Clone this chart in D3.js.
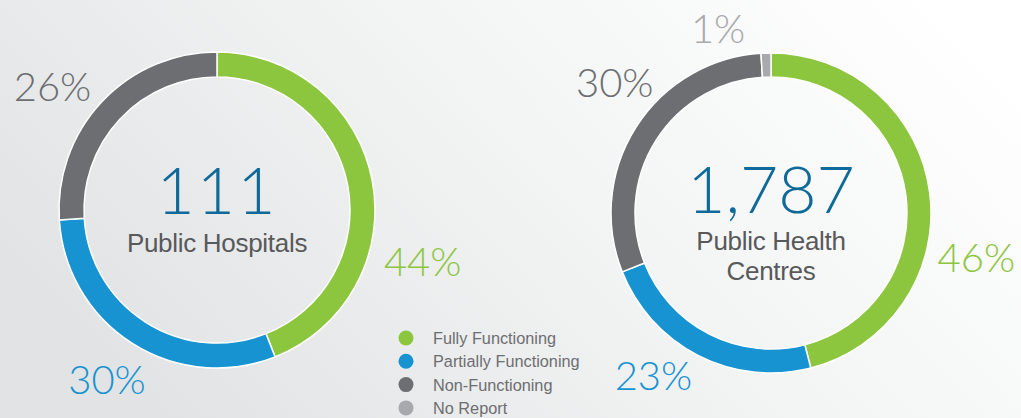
<!DOCTYPE html>
<html>
<head>
<meta charset="utf-8">
<script src="https://cdn.jsdelivr.net/npm/d3@7"></script>
<style>
  html, body { margin: 0; padding: 0; background: #fff; }
  svg { display: block; font-family: "Lato", "Open Sans", sans-serif; }
</style>
</head>
<body>
<div id="chart"></div>
<script>
// data
const categories = ["Fully Functioning", "Partially Functioning", "Non-Functioning", "No Report"];
const hospitalValues = [44, 30, 26, 0];
const centreValues = [46, 23, 30, 1];
const totals = [111, 1787];
const titles = [["Public Hospitals"], ["Public Health", "Centres"]];

const colors = {
    green: "#8cc63f",
    blue: "#1793d1",
    dark: "#6d6e71",
    light: "#a7a9ac",
    number: "#0f6a99",
    text: "#58595b"
};
const catColor = d3.scaleOrdinal().domain(categories)
    .range([colors.green, colors.blue, colors.dark, colors.light]);

const width = 1021, height = 418;

const svg = d3.select("#chart").append("svg")
    .attr("width", width)
    .attr("height", height);

// soft grey-to-white background
const grad = svg.append("defs").append("linearGradient")
    .attr("id", "bg")
    .attr("x1", "0%").attr("y1", "60%")
    .attr("x2", "100%").attr("y2", "20%");
grad.append("stop").attr("offset", "0%").attr("stop-color", "#e2e3e4");
grad.append("stop").attr("offset", "55%").attr("stop-color", "#f3f4f4");
grad.append("stop").attr("offset", "100%").attr("stop-color", "#ffffff");
svg.append("rect").attr("width", width).attr("height", height).attr("fill", "url(#bg)");

// layout per donut: centre, radii, label angles (degrees, clockwise from top)
const donuts = [
    {values: hospitalValues, total: totals[0], title: titles[0], cx: 217, cy: 210, r: 158, inner: 133,
        numY: 4, titleY: 42, labelAngles: [104, 213, 307, null], labelR: [212, 202, 206, 0]},
    {values: centreValues, total: totals[1], title: titles[1], cx: 771, cy: 213, r: 160, inner: 136,
        numY: 0, titleY: 37, labelAngles: [102, 216, 310, 344], labelR: [210, 200, 204, 192]}
];

const pie = d3.pie().sort(null).value(d => d.value);
const fmt = d3.format(",");

donuts.forEach(cfg => {
    const g = svg.append("g")
        .attr("transform", "translate(" + cfg.cx + "," + cfg.cy + ")");

    const arc = d3.arc().innerRadius(cfg.inner).outerRadius(cfg.r);
    const rows = categories.map((c, i) => ({cat: c, value: cfg.values[i]}));
    const arcs = pie(rows);

    g.selectAll("path")
        .data(arcs.filter(d => d.data.value > 0))
        .enter()
        .append("path")
        .attr("d", arc)
        .attr("fill", d => catColor(d.data.cat))
        .attr("stroke", "#fff")
        .attr("stroke-width", 1.5);

    // percentage labels
    arcs.forEach((d, i) => {
        if (!d.data.value || cfg.labelAngles[i] == null) return;
        const a = cfg.labelAngles[i] * Math.PI / 180;
        const rr = cfg.labelR[i];
        g.append("text")
            .attr("x", Math.sin(a) * rr)
            .attr("y", -Math.cos(a) * rr)
            .attr("text-anchor", "middle")
            .attr("dominant-baseline", "central")
            .attr("font-size", 40)
            .attr("font-weight", 300)
            .attr("fill", catColor(d.data.cat))
            .text(d.data.value + "%");
    });

    // centre number and title
    g.append("text")
        .attr("x", 0)
        .attr("y", cfg.numY)
        .attr("text-anchor", "middle")
        .attr("font-size", 66)
        .attr("font-weight", 300)
        .attr("letter-spacing", cfg.total < 1000 ? 2 : 0)
        .attr("fill", colors.number)
        .text(fmt(cfg.total));

    cfg.title.forEach((t, j) => {
        g.append("text")
            .attr("x", 0)
            .attr("y", cfg.titleY + j * 30)
            .attr("text-anchor", "middle")
            .attr("font-family", "'Liberation Sans', Arial, sans-serif")
            .attr("font-size", 26)
            .attr("letter-spacing", -0.3)
            .attr("fill", colors.text)
            .text(t);
    });
});

// legend
const legend = svg.append("g").attr("transform", "translate(406,338)");
const items = legend.selectAll("g")
    .data(categories)
    .enter()
    .append("g")
    .attr("transform", (d, i) => "translate(0," + i * 23.3 + ")");
items.append("circle")
    .attr("r", 7.5)
    .attr("fill", d => catColor(d));
items.append("text")
    .attr("x", 27)
    .attr("y", 6)
    .attr("font-family", "'Liberation Sans', Arial, sans-serif")
    .attr("font-size", 16.3)
    .attr("fill", colors.dark)
    .text(d => d);
</script>
</body>
</html>
